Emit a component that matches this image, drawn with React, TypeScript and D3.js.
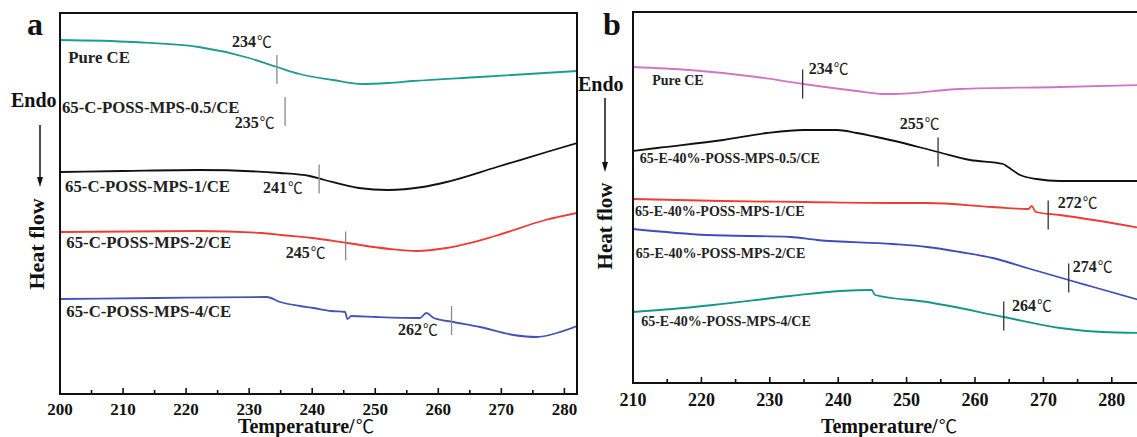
import React from "react";
import * as d3 from "d3";

// ---------- DATA (temperature °C, heat flow a.u.) ----------
const ticksA = [200, 210, 220, 230, 240, 250, 260, 270, 280];
const minorA = [205, 215, 225, 235, 245, 255, 265, 275];
const ticksB = [210, 220, 230, 240, 250, 260, 270, 280];
const minorB = [215, 225, 235, 245, 255, 265, 275];

const aPureCE: [number, number][] = [[200, 354], [211.6, 352], [222, 347], [230, 336], [234.4, 327], [238, 320], [243.3, 314], [248, 310], [252, 311], [256, 313], [266.5, 317], [282, 323]];
const aMPS1: [number, number][] = [[200, 222], [210, 223], [222, 224], [234.9, 221], [239.6, 218], [242, 214], [247.4, 206], [252, 204], [257.5, 207], [261.3, 212], [269.3, 227], [277.2, 242], [282, 251]];
const aMPS2: [number, number][] = [[200, 162], [222, 163], [232, 161], [235, 159], [240, 156], [245.5, 151], [252.3, 145], [256.6, 143], [261.3, 146], [269, 158], [277, 174], [282, 181]];
const aMPS4: [number, number][] = [[200, 95], [215, 96], [232.8, 97], [234.9, 92], [238, 88], [240.2, 86], [243, 83], [245.2, 82], [245.6, 75], [246.2, 78], [250.2, 77], [257.1, 76], [258.1, 81], [259.3, 76], [262.4, 72], [266.6, 67], [271.9, 59], [275.6, 57], [278.8, 61], [282, 68]];

const bPureCE: [number, number][] = [[210, 316], [218.3, 313], [228.1, 306], [234.9, 299], [242.7, 292], [246.5, 289], [248, 289], [257.8, 294], [272.4, 296], [285, 298]];
const bMPS05: [number, number][] = [[210, 232], [213.5, 235], [223.2, 243], [229.6, 250], [234.9, 253], [239.8, 253], [242.7, 250], [247.6, 243], [254.6, 231], [259.3, 223], [264.1, 219], [264.6, 217], [266.6, 208], [269, 204], [272.4, 202], [285, 202]];
const bMPS1: [number, number][] = [[210, 184], [223, 182], [235, 181], [247.6, 180], [253, 180], [262.6, 176], [267.8, 174], [268.3, 177], [268.9, 171], [272.4, 168], [277.3, 163], [285, 154]];
const bMPS2: [number, number][] = [[210, 154], [220.8, 148], [233, 146], [236.9, 143], [248, 139], [253, 136], [257.8, 131], [262.6, 125], [267.6, 115], [273.7, 103], [277.3, 96], [285, 81]];
const bMPS4: [number, number][] = [[210, 71], [215.8, 74], [221.7, 78], [233, 87], [240.3, 92], [244.9, 93], [245.4, 88], [253, 81], [264.2, 66], [272.4, 55], [278.7, 51], [285, 50]];

const namesA = ["Pure CE", "65-C-POSS-MPS-0.5/CE", "65-C-POSS-MPS-1/CE", "65-C-POSS-MPS-2/CE", "65-C-POSS-MPS-4/CE"];
const namesB = ["Pure CE", "65-E-40%-POSS-MPS-0.5/CE", "65-E-40%-POSS-MPS-1/CE", "65-E-40%-POSS-MPS-2/CE", "65-E-40%-POSS-MPS-4/CE"];
const curvesA = [aPureCE, null, aMPS1, aMPS2, aMPS4];
const curvesB = [bPureCE, bMPS05, bMPS1, bMPS2, bMPS4];

const onsetA = [234.4, 235.7, 241.1, 245.3, 262.1];
const onsetValA = [324.5, 282.5, 215, 148, 73.5];
const onsetTextA = ["234", "235", "241", "245", "262"];
const onsetB = [234.8, 254.6, 270.7, 273.7, 264.2];
const onsetValB = [299, 231, 168, 105, 67];
const onsetTextB = ["234", "255", "272", "274", "264"];

// ---------- LAYOUT (label anchors in data coords) ----------
const nameLabelPosA = [[201.3, 331], [200.3, 281], [200.8, 202], [201, 146], [201, 77]];
const onsetLabelPosA = [[227.3, 347], [227.7, 266], [232.2, 201], [235.8, 136], [253.6, 59]];
const nameLabelPosB = [[212.8, 298], [211, 220], [210.3, 167], [210.4, 125], [211.2, 57]];
const onsetLabelPosB = [[235.7, 309], [249, 254], [272.1, 175], [274.3, 111], [265.4, 72]];

const colorsA = ["#1f9c92", "#000", "#111111", "#ee3b33", "#4453b5"];
const colorsB = ["#d274c6", "#111111", "#ee3b33", "#3f4cbc", "#179688"];

const SERIF = "'Liberation Serif', 'Times New Roman', serif";
const CJK = "'Noto Sans CJK SC', sans-serif";

type PanelProps = {
  letter: string;
  left: number; right: number; top: number; bottom: number;
  xDomain: [number, number]; yMax: number;
  ticks: number[]; minor: number[];
  names: string[]; curves: ([number, number][] | null)[];
  colors: string[];
  onset: number[]; onsetVal: number[]; onsetText: string[];
  namePos: number[][]; onsetPos: number[][];
  nameSize: number; onsetSize: number; tickSize: number; tickBaseline: number;
  markerColor: string; openRight: boolean;
  letterX: number; endoX: number; endoY: number; arrowX: number; arrowY0: number; arrowY1: number;
  heatX: number; heatY: number; heatSize: number; titleX: number; titleY: number;
};

function Celsius({ size }: { size: number }) {
  return <tspan fontFamily={CJK} fontWeight="normal" fontSize={size * 0.92} dx={1}>℃</tspan>;
}

function Panel(p: PanelProps) {
  const x = d3.scaleLinear().domain(p.xDomain).range([p.left, p.right]);
  const y = d3.scaleLinear().domain([0, p.yMax]).range([p.bottom, p.top]);
  const line = d3.line<[number, number]>().x(d => x(d[0])).y(d => y(d[1])).curve(d3.curveMonotoneX);
  const boxPath = p.openRight
    ? `M${p.right},${p.top}H${p.left}V${p.bottom}H${p.right}`
    : `M${p.left},${p.top}H${p.right}V${p.bottom}H${p.left}Z`;
  return (
    <g>
      <defs>
        <clipPath id={`clip-${p.letter}`}>
          <rect x={p.left} y={p.top} width={p.right - p.left} height={p.bottom - p.top} />
        </clipPath>
      </defs>
      <g clipPath={`url(#clip-${p.letter})`}>
        {p.curves.map((c, i) => c ? (
          <path key={i} d={line(c) || ""} fill="none" stroke={p.colors[i]} strokeWidth={1.8} />
        ) : null)}
      </g>
      {p.onset.map((t, i) => (
        <line key={i} x1={x(t)} x2={x(t)} y1={y(p.onsetVal[i]) - 14.5} y2={y(p.onsetVal[i]) + 14.5}
          stroke={p.markerColor} strokeWidth={1.3} />
      ))}
      {p.names.map((n, i) => (
        <text key={i} x={x(p.namePos[i][0])} y={y(p.namePos[i][1])} fontFamily={SERIF}
          fontWeight="bold" fontSize={p.nameSize} fill="#222">{n}</text>
      ))}
      {p.onsetText.map((s, i) => (
        <text key={i} x={x(p.onsetPos[i][0])} y={y(p.onsetPos[i][1])} fontFamily={SERIF}
          fontWeight="bold" fontSize={p.onsetSize} fill="#222">{s}<Celsius size={p.onsetSize} /></text>
      ))}
      <path d={boxPath} fill="none" stroke="#111" strokeWidth={2} />
      {p.ticks.map(t => (
        <g key={t}>
          <line x1={x(t)} x2={x(t)} y1={p.bottom} y2={p.bottom - 6} stroke="#111" strokeWidth={1.6} />
          <text x={x(t)} y={p.tickBaseline} textAnchor="middle" fontFamily={SERIF} fontWeight="bold"
            fontSize={p.tickSize} fill="#111">{t}</text>
        </g>
      ))}
      {p.minor.map(t => (
        <line key={t} x1={x(t)} x2={x(t)} y1={p.bottom} y2={p.bottom - 4} stroke="#111" strokeWidth={1.6} />
      ))}
      <text x={p.titleX} y={p.titleY} textAnchor="middle" fontFamily={SERIF} fontWeight="bold" fontSize={20} fill="#111">Temperature/<Celsius size={20} /></text>
      <text x={p.letterX} y={35} fontFamily={SERIF} fontWeight="bold" fontSize={32} fill="#111">{p.letter}</text>
      <text x={p.endoX} y={p.endoY} fontFamily={SERIF} fontWeight="bold" fontSize={20} fill="#111">Endo</text>
      <line x1={p.arrowX} x2={p.arrowX} y1={p.arrowY0} y2={p.arrowY1 - 8} stroke="#111" strokeWidth={1.5} />
      <path d={`M${p.arrowX - 3},${p.arrowY1 - 10}L${p.arrowX + 3},${p.arrowY1 - 10}L${p.arrowX},${p.arrowY1}Z`} fill="#111" />
      <text transform={`translate(${p.heatX},${p.heatY}) rotate(-90)`} textAnchor="middle" fontFamily={SERIF}
        fontWeight="bold" fontSize={p.heatSize} fill="#111">Heat flow</text>
    </g>
  );
}

export default function App() {
  return (
    <svg width={1137} height={437} style={{ position: "fixed", left: 0, top: 0, background: "#fff" }}>
      <rect width={1137} height={437} fill="#fff" />
      <Panel letter="a" left={60} right={577} top={13} bottom={394} xDomain={[200, 282]} yMax={381}
        ticks={ticksA} minor={minorA} names={namesA} curves={curvesA} colors={colorsA}
        onset={onsetA} onsetVal={onsetValA} onsetText={onsetTextA}
        namePos={nameLabelPosA} onsetPos={onsetLabelPosA}
        nameSize={16.8} onsetSize={16} tickSize={17} tickBaseline={415}
        markerColor="#8a8a8a" openRight={false}
        letterX={27} endoX={11} endoY={107} arrowX={40} arrowY0={125} arrowY1={187}
        heatX={44} heatY={244} heatSize={22} titleX={306} titleY={433} />
      <Panel letter="b" left={633} right={1146} top={12} bottom={383} xDomain={[210, 285]} yMax={371}
        ticks={ticksB} minor={minorB} names={namesB} curves={curvesB} colors={colorsB}
        onset={onsetB} onsetVal={onsetValB} onsetText={onsetTextB}
        namePos={nameLabelPosB} onsetPos={onsetLabelPosB}
        nameSize={14} onsetSize={16} tickSize={18} tickBaseline={406}
        markerColor="#333" openRight={true}
        letterX={603} endoX={578} endoY={91} arrowX={605} arrowY0={98} arrowY1={172}
        heatX={612} heatY={226} heatSize={21} titleX={889} titleY={433} />
    </svg>
  );
}
